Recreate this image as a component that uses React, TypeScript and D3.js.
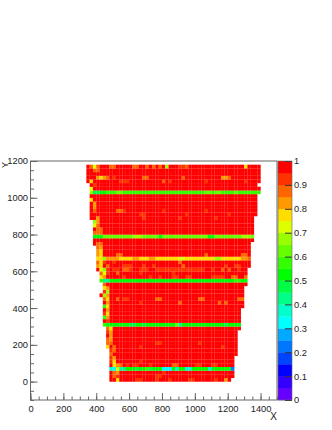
import React, { useEffect, useRef } from 'react';
import * as d3 from 'd3';

// bin size of the 2D histogram, in axis units
const binSize = 20;

const xTicks = [0, 200, 400, 600, 800, 1000, 1200, 1400];
const xMinorTicks = d3.range(0, 1501, 50);
const yTicks = [0, 200, 400, 600, 800, 1000, 1200];
const yMinorTicks = d3.range(-100, 1201, 50);
const zTicks = [0, 0.1, 0.2, 0.3, 0.4, 0.5, 0.6, 0.7, 0.8, 0.9, 1];

const palette = [
  '#6600ff', '#3300ff', '#0000ff', '#0044ff', '#0077ff',
  '#00aaff', '#00ffff', '#00ffcc', '#00ff88', '#00ff44',
  '#00ff00', '#33ff00', '#66ff00', '#99ff00', '#ddff00',
  '#ffdd00', '#ff9900', '#ff6600', '#ff3300', '#ff0000',
];

// one entry per row, y = 0, 20, 40 ... 1160: left edge and right edge of filled bins
const rowLeft = [
  480, 480, 480, 480, 480, 480, 480, 480, 480, 460,
  460, 460, 460, 460, 460, 440, 440, 440, 440, 440,
  440, 440, 440, 420, 440, 440, 440, 420, 420, 420,
  400, 400, 400, 400, 400, 400, 400, 380, 380, 380,
  380, 380, 380, 380, 360, 360, 360, 360, 360, 360,
  360, 360, 360, 360, 340, 340, 340, 340, 340,
];
const rowRight = [
  1220, 1240, 1240, 1240, 1240, 1240, 1240, 1260, 1260, 1260,
  1260, 1260, 1260, 1260, 1280, 1280, 1280, 1280, 1280, 1280,
  1300, 1300, 1300, 1300, 1300, 1300, 1320, 1320, 1320, 1320,
  1320, 1340, 1340, 1340, 1340, 1340, 1340, 1340, 1360, 1360,
  1360, 1360, 1360, 1360, 1360, 1380, 1380, 1380, 1380, 1380,
  1380, 1400, 1400, 1380, 1400, 1400, 1400, 1400, 1400,
];
// usual value of a row: nearly 1, except the inefficient strips
const rowLevel = [
  0.98, 0.98, 0.98, 0.52, 0.98, 0.98, 0.98, 0.98, 0.98, 0.98,
  0.98, 0.98, 0.98, 0.98, 0.98, 0.53, 0.98, 0.98, 0.98, 0.98,
  0.98, 0.98, 0.98, 0.98, 0.98, 0.98, 0.98, 0.53, 0.98, 0.98,
  0.98, 0.98, 0.98, 0.77, 0.98, 0.98, 0.98, 0.98, 0.98, 0.6,
  0.98, 0.98, 0.98, 0.98, 0.98, 0.98, 0.98, 0.98, 0.98, 0.98,
  0.98, 0.55, 0.98, 0.98, 0.98, 0.98, 0.98, 0.98, 0.98,
];

// bins that differ from their row's level: [x, y, value]
const offCells: [number, number, number][] = [
  [360, 1160, 0.87], [380, 1160, 0.72], [400, 1160, 0.87], [480, 1160, 0.87], [500, 1160, 0.87],
  [620, 1160, 0.87], [640, 1160, 0.87], [700, 1160, 0.87], [740, 1160, 0.87], [780, 1160, 0.87],
  [820, 1160, 0.65], [900, 1160, 0.92], [920, 1160, 0.92], [940, 1160, 0.87], [1300, 1160, 0.77],
  [380, 1140, 0.87], [400, 1140, 0.87],
  [400, 1100, 0.8], [420, 1100, 0.77], [440, 1100, 0.8], [460, 1100, 0.87], [500, 1100, 0.9],
  [680, 1100, 0.87], [700, 1100, 0.87], [920, 1100, 0.87], [1160, 1100, 0.82], [1180, 1100, 0.82], [1200, 1100, 0.87],
  [360, 1080, 0.75], [540, 1080, 0.9], [560, 1080, 0.9], [580, 1080, 0.9], [800, 1080, 0.85],
  [840, 1080, 0.9], [1060, 1080, 0.9], [1300, 1080, 0.9],
  [380, 1060, 0.9], [360, 1040, 0.7],
  [360, 1020, 0.65], [380, 1020, 0.47], [400, 1020, 0.47], [420, 1020, 0.5], [440, 1020, 0.52],
  [520, 1020, 0.62], [540, 1020, 0.62], [580, 1020, 0.58], [1060, 1020, 0.62], [1080, 1020, 0.62],
  [1120, 1020, 0.62], [1140, 1020, 0.62], [1240, 1020, 0.6],
  [360, 980, 0.75], [380, 960, 0.82], [380, 940, 0.82], [380, 920, 0.85],
  [520, 920, 0.88], [540, 920, 0.88], [560, 920, 0.9], [800, 920, 0.9], [1060, 920, 0.9],
  [660, 900, 0.9], [680, 900, 0.9], [940, 900, 0.9], [1200, 900, 0.92],
  [400, 880, 0.82], [680, 880, 0.9], [900, 880, 0.9], [1120, 880, 0.9],
  [380, 860, 0.68], [400, 860, 0.82], [380, 840, 0.72], [400, 840, 0.87],
  [400, 820, 0.87], [420, 820, 0.87], [380, 800, 0.87], [400, 800, 0.87], [420, 800, 0.85],
  [380, 780, 0.5], [400, 780, 0.5], [420, 780, 0.52], [620, 780, 0.65], [640, 780, 0.65],
  [660, 780, 0.65], [780, 780, 0.5], [920, 780, 0.64], [1080, 780, 0.5], [1100, 780, 0.5],
  [1280, 780, 0.65], [1300, 780, 0.65], [1320, 780, 0.65],
  [400, 740, 0.87], [420, 740, 0.87], [400, 720, 0.87], [420, 720, 0.82],
  [400, 700, 0.82], [420, 700, 0.77], [400, 680, 0.8], [420, 680, 0.77],
  [520, 680, 0.87], [540, 680, 0.87], [1060, 680, 0.87], [1280, 680, 0.87], [1300, 680, 0.87],
  [440, 660, 0.68], [460, 660, 0.82], [480, 660, 0.82], [500, 660, 0.82], [520, 660, 0.8],
  [620, 660, 0.82], [640, 660, 0.82], [720, 660, 0.82], [740, 660, 0.82], [900, 660, 0.7],
  [920, 660, 0.7], [1120, 660, 0.68], [1140, 660, 0.68], [1280, 660, 0.82], [1300, 660, 0.82], [1320, 660, 0.87],
  [400, 640, 0.87], [420, 640, 0.77], [440, 640, 0.9], [500, 640, 0.9], [900, 640, 0.88],
  [400, 620, 0.82], [420, 620, 0.75], [460, 620, 0.87], [560, 620, 0.9], [580, 620, 0.9],
  [600, 620, 0.9], [680, 620, 0.9], [740, 620, 0.9], [920, 620, 0.87], [1180, 620, 0.9],
  [1240, 620, 0.9], [1260, 620, 0.9],
  [420, 600, 0.7], [440, 600, 0.67], [460, 600, 0.9], [500, 600, 0.9], [520, 600, 0.9],
  [560, 600, 0.88], [580, 600, 0.88], [600, 600, 0.9], [660, 600, 0.9], [680, 600, 0.9], [700, 600, 0.9],
  [760, 600, 0.9], [780, 600, 0.9], [800, 600, 0.9], [820, 600, 0.9], [840, 600, 0.9], [860, 600, 0.9],
  [880, 600, 0.9], [900, 600, 0.9], [920, 600, 0.9], [940, 600, 0.9], [960, 600, 0.9], [980, 600, 0.9],
  [1000, 600, 0.9], [1020, 600, 0.9], [1040, 600, 0.9], [1100, 600, 0.9], [1160, 600, 0.87],
  [1200, 600, 0.85], [1260, 600, 0.9],
  [420, 580, 0.85], [440, 580, 0.72], [460, 580, 0.9], [520, 580, 0.87], [660, 580, 0.9], [860, 580, 0.9],
  [420, 560, 0.77], [440, 560, 0.82], [560, 560, 0.9], [720, 560, 0.9], [780, 560, 0.9],
  [860, 560, 0.9], [880, 560, 0.9], [940, 560, 0.9], [960, 560, 0.9], [1100, 560, 0.9], [1120, 560, 0.9],
  [1140, 560, 0.9], [1160, 560, 0.9], [1220, 560, 0.87], [1240, 560, 0.87], [1300, 560, 0.85],
  [420, 540, 0.57], [440, 540, 0.43], [460, 540, 0.43], [480, 540, 0.5], [1240, 540, 0.58], [1260, 540, 0.58],
  [440, 520, 0.85], [440, 500, 0.77], [460, 500, 0.82],
  [440, 480, 0.9], [460, 480, 0.68], [440, 460, 0.68], [460, 460, 0.82],
  [440, 440, 0.85], [460, 440, 0.77], [520, 440, 0.87], [560, 440, 0.9], [580, 440, 0.9], [760, 440, 0.87],
  [780, 440, 0.87], [1020, 440, 0.87], [1040, 440, 0.87], [1260, 440, 0.87], [1280, 440, 0.87],
  [460, 420, 0.8], [660, 420, 0.9], [900, 420, 0.87], [1140, 420, 0.87], [1180, 420, 0.87],
  [440, 400, 0.55], [460, 400, 0.77], [460, 380, 0.8], [440, 360, 0.9], [460, 360, 0.77],
  [440, 340, 0.55], [460, 340, 0.8], [460, 320, 0.9],
  [440, 300, 0.55], [600, 300, 0.48], [620, 300, 0.48], [680, 300, 0.45], [780, 300, 0.5],
  [880, 300, 0.6], [900, 300, 0.42], [960, 300, 0.5], [1180, 300, 0.47], [1240, 300, 0.5],
  [460, 280, 0.87], [480, 280, 0.77], [460, 260, 0.9], [480, 260, 0.8], [480, 240, 0.8],
  [460, 220, 0.87], [480, 220, 0.82], [460, 200, 0.85], [480, 200, 0.85], [760, 200, 0.9],
  [780, 200, 0.9], [1020, 200, 0.9], [460, 180, 0.77], [500, 180, 0.87], [660, 180, 0.9], [1160, 180, 0.9],
  [480, 160, 0.9], [500, 160, 0.87], [480, 140, 0.87], [480, 120, 0.9], [500, 120, 0.8],
  [480, 100, 0.9], [500, 100, 0.77], [660, 100, 0.9],
  [500, 80, 0.75], [520, 80, 0.8], [540, 80, 0.87], [580, 80, 0.9], [620, 80, 0.9], [640, 80, 0.9],
  [720, 80, 0.9], [860, 80, 0.87], [880, 80, 0.87], [1000, 80, 0.9], [1020, 80, 0.9],
  [1100, 80, 0.9], [1120, 80, 0.9],
  [480, 60, 0.35], [500, 60, 0.33], [520, 60, 0.72], [540, 60, 0.4], [560, 60, 0.42],
  [800, 60, 0.32], [820, 60, 0.32], [840, 60, 0.32], [880, 60, 0.38], [940, 60, 0.35],
  [960, 60, 0.35], [1080, 60, 0.35], [1220, 60, 0.22], [640, 60, 0.47], [720, 60, 0.45], [700, 60, 0.58],
  [500, 40, 0.85], [520, 40, 0.82], [800, 40, 0.9],
  [500, 20, 0.85], [520, 20, 0.9], [760, 20, 0.9], [780, 20, 0.9],
  [520, 0, 0.77], [640, 0, 0.9], [660, 0, 0.9], [760, 0, 0.9], [840, 0, 0.9], [960, 0, 0.9],
  [980, 0, 0.9], [1120, 0, 0.9], [1180, 0, 0.82],
];

const App = () => {
  const ref = useRef<SVGSVGElement | null>(null);

  useEffect(() => {
    const plot = { left: 30.5, right: 277, top: 161, bottom: 400 };
    const bar = { left: 278, right: 292 };
    const labelFont = '"Liberation Sans", Arial, sans-serif';
    const fontSize = 9.3;

    const svg = d3.select(ref.current);
    svg.selectAll('*').remove();

    const x = d3.scaleLinear().domain([0, 1500]).range([plot.left, plot.right]);
    const y = d3.scaleLinear().domain([-100, 1200]).range([plot.bottom, plot.top]);
    const z = d3.scaleLinear().domain([0, 1]).range([plot.bottom, plot.top]);
    const colour = d3.scaleQuantize<string>().domain([0, 1]).range(palette);

    const overrides = new Map(offCells.map(d => [`${d[0]}_${d[1]}`, d[2]]));
    const cells: { x: number; y: number; value: number }[] = [];
    rowLeft.forEach((left, i) => {
      const rowY = i * binSize;
      for (let cx = left; cx < rowRight[i]; cx += binSize) {
        cells.push({ x: cx, y: rowY, value: overrides.get(`${cx}_${rowY}`) ?? rowLevel[i] });
      }
    });

    // slight overlap so the seams between bins stay faint
    svg.append('g')
      .selectAll('rect')
      .data(cells)
      .enter()
      .append('rect')
        .attr('x', d => x(d.x))
        .attr('y', d => y(d.y + binSize))
        .attr('width', x(binSize) - x(0) + 0.12)
        .attr('height', y(0) - y(binSize) + 0.12)
        .attr('fill', d => colour(d.value));

    // colour bar
    svg.append('g')
      .selectAll('rect')
      .data(palette)
      .enter()
      .append('rect')
        .attr('x', bar.left)
        .attr('y', (_, i) => z((i + 1) * 0.05))
        .attr('width', bar.right - bar.left)
        .attr('height', z(0) - z(0.05) + 0.3)
        .attr('fill', d => d);

    const axisColour = '#666';

    const styleAxis = (g: any) => {
      g.select('.domain').remove();
      g.selectAll('line').attr('stroke', axisColour).attr('stroke-width', 1);
      g.selectAll('text')
        .attr('fill', '#222')
        .style('font-family', labelFont)
        .style('font-size', `${fontSize}px`);
    };

    // minor ticks first, then labelled ones
    svg.append('g')
      .attr('transform', `translate(0, ${plot.bottom})`)
      .call(d3.axisBottom(x).tickValues(xMinorTicks).tickSize(-3.5).tickFormat(() => ''))
      .call(styleAxis);
    const xAxis = svg.append('g')
      .attr('transform', `translate(0, ${plot.bottom})`)
      .call(d3.axisBottom(x).tickValues(xTicks).tickSize(-7).tickFormat(d3.format('d')))
      .call(styleAxis);
    xAxis.selectAll('text').attr('y', 5).attr('dy', '0.71em');

    svg.append('g')
      .attr('transform', `translate(${plot.left}, 0)`)
      .call(d3.axisLeft(y).tickValues(yMinorTicks).tickSize(-3.5).tickFormat(() => ''))
      .call(styleAxis);
    const yAxis = svg.append('g')
      .attr('transform', `translate(${plot.left}, 0)`)
      .call(d3.axisLeft(y).tickValues(yTicks).tickSize(-7).tickFormat(d3.format('d')))
      .call(styleAxis);
    yAxis.selectAll('text').attr('x', -2.5);

    const zAxis = svg.append('g')
      .attr('transform', `translate(${bar.right}, 0)`)
      .call(d3.axisRight(z).tickValues(zTicks).tickSize(-7).tickFormat(d3.format('')))
      .call(styleAxis);
    zAxis.selectAll('line').attr('stroke', '#333');
    zAxis.selectAll('text').attr('x', 2);

    // frames
    svg.append('rect')
      .attr('x', plot.left)
      .attr('y', plot.top)
      .attr('width', plot.right - plot.left)
      .attr('height', plot.bottom - plot.top)
      .attr('fill', 'none')
      .attr('stroke', axisColour);
    svg.append('rect')
      .attr('x', bar.left)
      .attr('y', plot.top)
      .attr('width', bar.right - bar.left)
      .attr('height', plot.bottom - plot.top)
      .attr('fill', 'none')
      .attr('stroke', axisColour)
      .attr('stroke-width', 0.6);

    svg.append('text')
      .attr('x', plot.right)
      .attr('y', 420)
      .attr('text-anchor', 'end')
      .attr('font-family', labelFont)
      .attr('font-size', 10)
      .attr('fill', '#222')
      .text('X');
    svg.append('text')
      .attr('transform', `translate(8, 168) rotate(-90)`)
      .attr('font-family', labelFont)
      .attr('font-size', 9)
      .attr('fill', '#222')
      .text('Y');
  }, []);

  return (
    <svg
      ref={ref}
      width={332}
      height={430}
      style={{ position: 'absolute', left: 0, top: 0, background: '#fff' }}
    />
  );
};

export default App;
